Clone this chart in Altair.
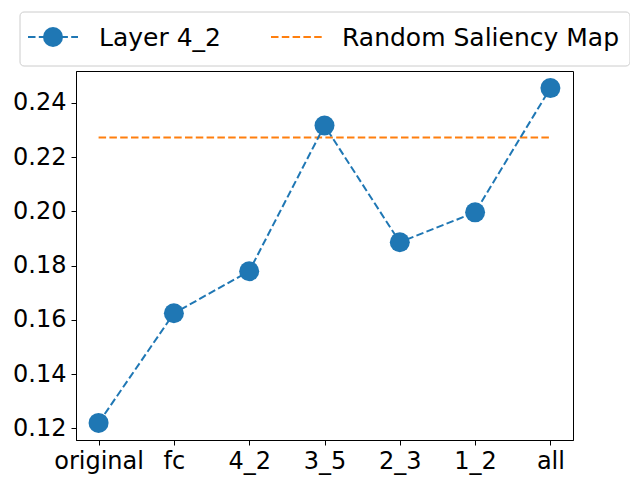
import altair as alt
import pandas as pd

categories = ["original", "fc", "4_2", "3_5", "2_3", "1_2", "all"]
layer_values = [0.1220, 0.1624, 0.1779, 0.2316, 0.1886, 0.1996, 0.2454]
random_value = 0.2272
series_names = ["Layer 4_2", "Random Saliency Map"]
y_ticks = [0.12, 0.14, 0.16, 0.18, 0.20, 0.22, 0.24]

BLUE = "#1f77b4"
ORANGE = "#ff7f0e"
FONT = "DejaVu Sans"
DASH = [7.5, 3.3]
LW = 2

df = pd.DataFrame({"layer": categories, "value": layer_values})
rand_df = pd.DataFrame({"x1": [categories[0]], "x2": [categories[-1]], "value": [random_value]})
leg_df = pd.DataFrame({"name": series_names})

xs = alt.Scale(type="point", domain=categories, padding=0.3)
ys = alt.Scale(domain=[0.1157, 0.2517], zero=False, nice=False)

x_axis = alt.Axis(title=None, labelAngle=0, labelAlign="center", labelBaseline="top",
                  labelFontSize=24, labelFont=FONT, labelColor="black",
                  tickColor="black", tickSize=5, domainColor="black", labelPadding=4, grid=False)
y_axis = alt.Axis(title=None, values=y_ticks, format=".2f", labelFontSize=24, labelFont=FONT,
                  labelColor="black", tickColor="black", tickSize=5, domainColor="black",
                  labelPadding=5, grid=False)

base = alt.Chart(df)
line = base.mark_line(color=BLUE, strokeWidth=LW, strokeDash=DASH).encode(
    x=alt.X("layer:N", scale=xs, axis=x_axis, sort=categories),
    y=alt.Y("value:Q", scale=ys, axis=y_axis),
)
pts = base.mark_point(filled=True, color=BLUE, size=400, opacity=1).encode(
    x=alt.X("layer:N", scale=xs, sort=categories),
    y=alt.Y("value:Q", scale=ys),
)
rand = alt.Chart(rand_df).mark_rule(color=ORANGE, strokeWidth=LW, strokeDash=DASH).encode(
    x=alt.X("x1:N", scale=xs, sort=categories),
    x2="x2:N",
    y=alt.Y("value:Q", scale=ys),
)

# Legend (drawn above the plot area)
leg = alt.Chart(leg_df)
first = alt.datum.name == series_names[0]
second = alt.datum.name == series_names[1]
box = leg.transform_filter(first).mark_rect(
    fill="white", stroke="#cccccc", strokeWidth=1, cornerRadius=4
).encode(x=alt.value(-56), x2=alt.value(554), y=alt.value(-59), y2=alt.value(-5))
l1 = leg.transform_filter(first).mark_rule(
    color=BLUE, strokeWidth=LW, strokeDash=DASH
).encode(x=alt.value(-48), x2=alt.value(2), y=alt.value(-34))
p1 = leg.transform_filter(first).mark_point(
    filled=True, color=BLUE, size=400, opacity=1
).encode(x=alt.value(-23), y=alt.value(-34))
t1 = leg.transform_filter(first).mark_text(
    align="left", baseline="middle", fontSize=25, font=FONT, color="black"
).encode(x=alt.value(23), y=alt.value(-33), text="name:N")
l2 = leg.transform_filter(second).mark_rule(
    color=ORANGE, strokeWidth=LW, strokeDash=DASH
).encode(x=alt.value(195), x2=alt.value(246), y=alt.value(-34))
t2 = leg.transform_filter(second).mark_text(
    align="left", baseline="middle", fontSize=25, font=FONT, color="black"
).encode(x=alt.value(266), y=alt.value(-33), text="name:N")

chart = alt.layer(rand, line, pts, box, l1, p1, t1, l2, t2).properties(
    width=497, height=369,
    autosize=alt.AutoSizeParams(type="none"),
    padding={"left": 68, "top": 63, "right": 57, "bottom": 36},
).configure(background="white").configure_view(stroke="black", strokeWidth=1)

chart.save("out.html", embed_options={"renderer": "svg", "actions": False})
